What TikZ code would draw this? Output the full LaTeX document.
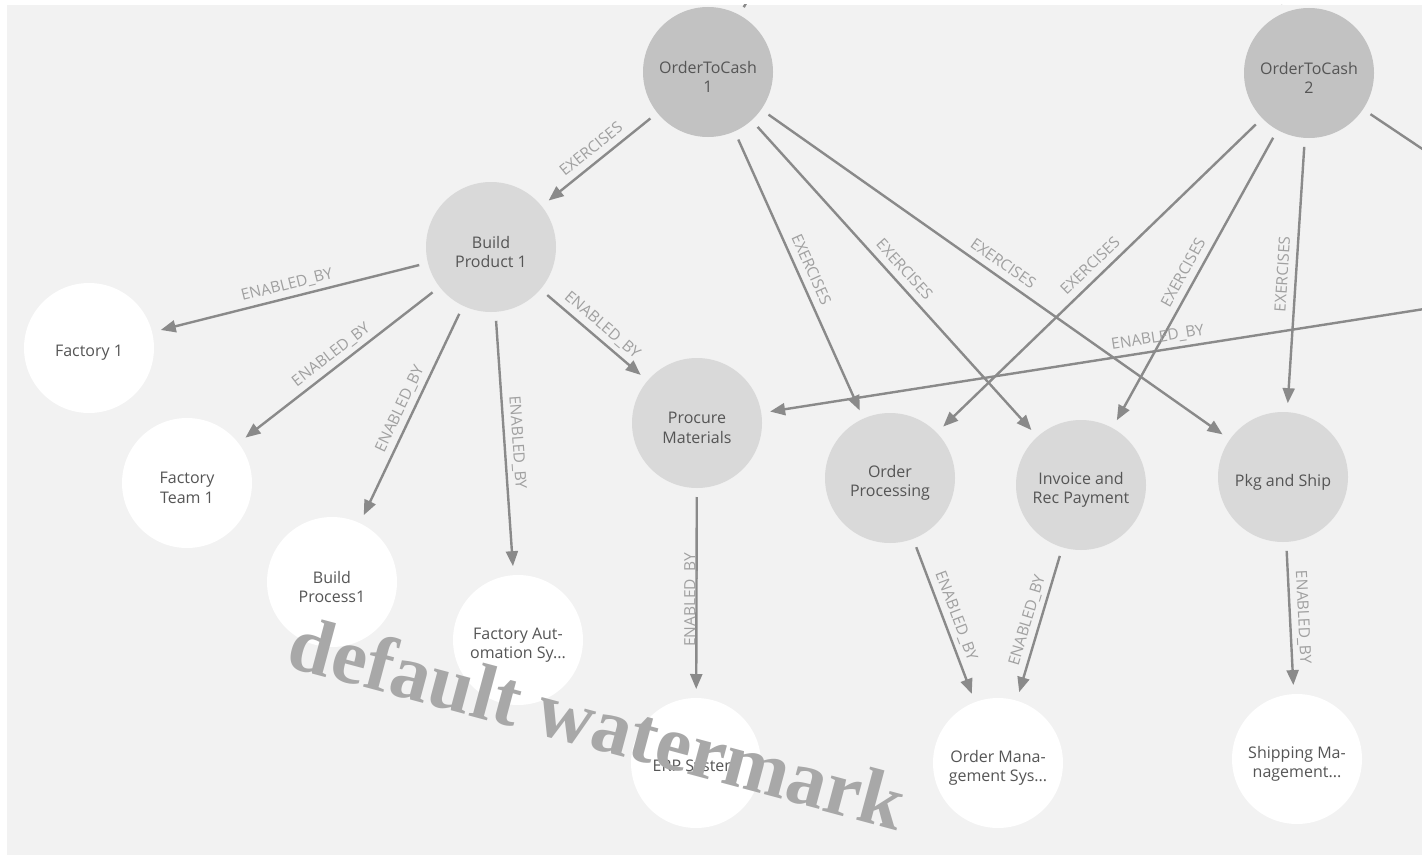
\documentclass[tikz,border=0pt]{standalone}
\usepackage{fontspec}
\setmainfont{Open Sans}
\newfontfamily\wmfont{Liberation Serif}
\usetikzlibrary{arrows.meta}
\definecolor{bg}{HTML}{F2F2F2}
\definecolor{otc}{HTML}{C2C2C2}
\definecolor{proc}{HTML}{D9D9D9}
\definecolor{ntext}{HTML}{555555}
\definecolor{edgec}{HTML}{8A8A8A}
\definecolor{labc}{HTML}{A0A0A0}
\definecolor{wmc}{HTML}{A8A8A8}
\begin{document}
\begin{tikzpicture}[x=1pt,y=-1pt,
  basenode/.style={circle, minimum size=130pt, inner sep=0pt, outer sep=0pt},
  nlab/.style={align=center, text=ntext, font=\fontsize{16}{19.5}\selectfont, inner sep=0pt, yshift=-5pt},
  otcnode/.style={basenode, fill=otc},
  procnode/.style={basenode, fill=proc},
  resnode/.style={basenode, fill=white},
  rel/.style={draw=edgec, line width=2.4pt, shorten <=9pt, shorten >=9pt, -{Triangle[length=15pt,width=12pt]}},
  lab/.style={text=labc, font=\fontsize{15.5}{16}\selectfont, inner sep=0pt, text depth=0pt, midway, sloped, above=7pt},
  labv/.style={text=labc, font=\fontsize{15.5}{16}\selectfont, inner sep=0pt, text depth=0pt, midway, rotate=90, anchor=south, xshift=-7pt},
  wmark/.style={text=wmc, font=\wmfont\bfseries\fontsize{79}{79}\selectfont, inner sep=0pt}
]
\useasboundingbox (0,0) rectangle (1422,859);
\fill[white] (0,0) rectangle (1422,859);
\fill[bg] (7,5) rectangle (1422,855);

% nodes
\node[otcnode, label={[nlab]center:{OrderToCash\\1}}] (OTC1) at (708,72) {};
\node[otcnode, label={[nlab]center:{OrderToCash\\2}}] (OTC2) at (1309,73) {};
\node[procnode, label={[nlab]center:{Build\\Product 1}}] (BP1) at (491,247) {};
\node[resnode, label={[nlab]center:{Factory 1}}] (F1) at (89,348) {};
\node[resnode, label={[nlab]center:{Factory\\Team 1}}] (FT1) at (187,483) {};
\node[resnode, label={[nlab]center:{Build\\Process1}}] (BPR) at (332,582) {};
\node[resnode, label={[nlab]center:{Factory Aut-\\omation Sy...}}] (FA) at (518,640) {};
\node[procnode, label={[nlab]center:{Procure\\Materials}}] (PM) at (697,423) {};
\node[procnode, label={[nlab]center:{Order\\Processing}}] (OP) at (890,478) {};
\node[procnode, label={[nlab]center:{Invoice and\\Rec Payment}}] (INV) at (1081,485) {};
\node[procnode, label={[nlab]center:{Pkg and Ship}}] (PKG) at (1283,477) {};
\node[resnode, label={[nlab]center:{ERP System}}] (ERP) at (696,763) {};
\node[resnode, label={[nlab]center:{Order Mana-\\gement Sys...}}] (OMS) at (998,763) {};
\node[resnode, label={[nlab]center:{Shipping Ma-\\nagement...}}] (SMS) at (1297,759) {};

\coordinate (offR1) at (1500,201);
\coordinate (offR2) at (1622,278);
\coordinate (offT1) at (782,-62);
\coordinate (offT2) at (1257,-63);

\begin{scope}
\clip (7,5) rectangle (1422,855);
\draw[rel] (OTC1) -- (BP1) node[lab] {EXERCISES};
\draw[rel] (OTC1) -- (OP) node[lab] {EXERCISES};
\draw[rel] (OTC1) -- (INV) node[lab] {EXERCISES};
\draw[rel] (OTC1) -- (PKG) node[lab] {EXERCISES};
\draw[rel] (OTC2) -- (OP) node[lab] {EXERCISES};
\draw[rel] (OTC2) -- (INV) node[lab] {EXERCISES};
\draw[rel] (OTC2) -- (PKG) node[lab] {EXERCISES};
\draw[rel] (OTC2) -- (offR1);
\draw[rel] (OTC1) -- (offT1);
\draw[rel] (OTC2) -- (offT2);
\draw[rel] (offR2) -- (PM) node[lab, pos=0.537] {ENABLED\_BY};
\draw[rel] (BP1) -- (F1) node[lab] {ENABLED\_BY};
\draw[rel] (BP1) -- (FT1) node[lab] {ENABLED\_BY};
\draw[rel] (BP1) -- (BPR) node[lab] {ENABLED\_BY};
\draw[rel] (BP1) -- (FA) node[lab] {ENABLED\_BY};
\draw[rel] (BP1) -- (PM) node[lab] {ENABLED\_BY};
\draw[rel] (PM) -- (ERP) node[labv] {ENABLED\_BY};
\draw[rel] (OP) -- (OMS) node[lab] {ENABLED\_BY};
\draw[rel] (INV) -- (OMS) node[lab] {ENABLED\_BY};
\draw[rel] (PKG) -- (SMS) node[lab] {ENABLED\_BY};
\end{scope}

\node[wmark, rotate=-15] (WM) at (598,722) {default watermark};
\end{tikzpicture}
\end{document}
